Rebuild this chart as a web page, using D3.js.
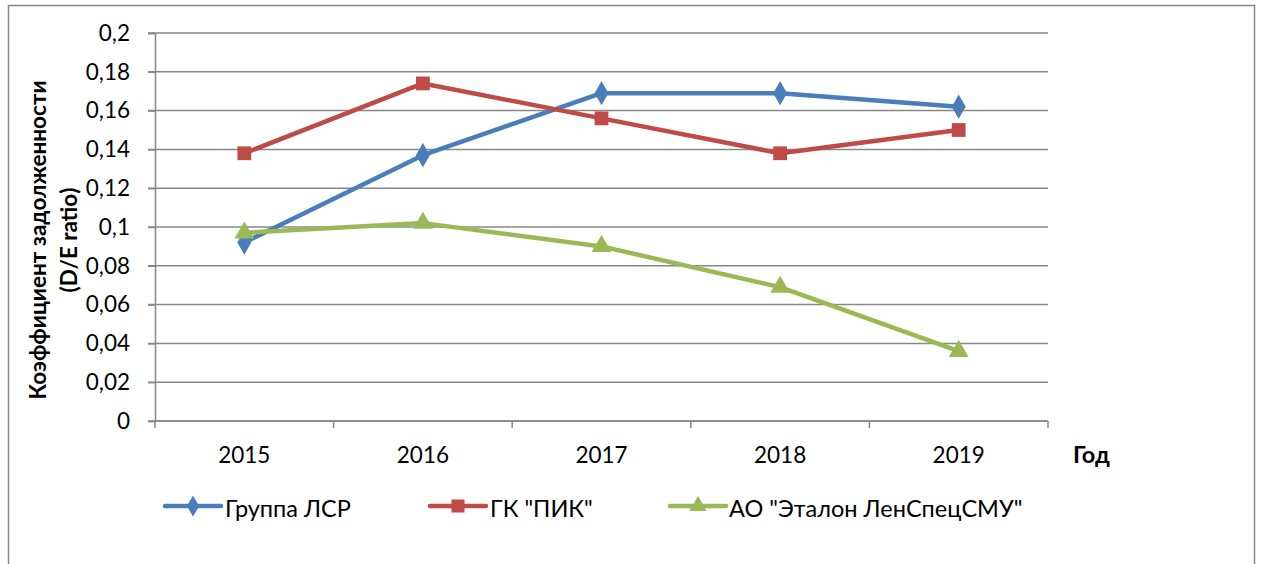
<!DOCTYPE html>
<html><head><meta charset="utf-8">
<script src="https://cdn.jsdelivr.net/npm/d3@7"></script>
<style>body{margin:0;background:#fff;} text{font-family:Lato,"Open Sans",sans-serif;}</style>
</head><body>
<svg id="c" width="1261" height="564"></svg>
<script>
const years = ["2015","2016","2017","2018","2019"];
const seriesNames = ["Группа ЛСР","ГК \"ПИК\"","АО \"Эталон ЛенСпецСМУ\""];
const lsr = [0.092,0.137,0.169,0.169,0.162];
const pik = [0.138,0.174,0.156,0.138,0.150];
const etalon = [0.097,0.102,0.090,0.069,0.036];
const yTicks = [0,0.02,0.04,0.06,0.08,0.1,0.12,0.14,0.16,0.18,0.2];
const colors = ["#4a7ebb","#be4b48","#98b954"];
const symbols = [d3.symbolDiamond, d3.symbolSquare, d3.symbolTriangle];
const data = [lsr,pik,etalon];

const svg = d3.select("#c");
svg.append("rect").attr("x",8.5).attr("y",5.5).attr("width",1246).attr("height",600)
  .attr("fill","#fff").attr("stroke","#888").attr("stroke-width",1.5);

const L=155,R=1048,T=33,B=421;
const FS=22.5;
const x = d3.scaleBand().domain(years).range([L,R]);
const y = d3.scaleLinear().domain([0,0.2]).range([B,T]);
const fmt = d => String(+d.toFixed(2)).replace(".",",");

// gridlines
svg.append("g").selectAll("line").data(yTicks).join("line")
  .attr("x1",L-7).attr("x2",R).attr("y1",d=>y(d)).attr("y2",d=>y(d))
  .attr("stroke","#888").attr("stroke-width",1.5);

// y axis
const ya = svg.append("g").attr("transform",`translate(${L},0)`)
  .call(d3.axisLeft(y).tickValues(yTicks).tickFormat(fmt).tickSize(7).tickPadding(18));
ya.select(".domain").attr("stroke","#888").attr("stroke-width",1.5);
ya.selectAll(".tick line").attr("stroke","#888").attr("stroke-width",1.5);
ya.selectAll("text").attr("font-size",FS).attr("fill","#000").attr("font-family","Lato");

// x axis
const xa = svg.append("g").attr("transform",`translate(0,${B})`)
  .call(d3.axisBottom(x).tickSize(0).tickPadding(26));
xa.select(".domain").remove();
xa.selectAll("text").attr("font-size",FS).attr("fill","#000").attr("font-family","Lato");
const bounds = years.map(d=>x(d)).concat([R]);
svg.append("g").selectAll("line").data(bounds).join("line")
  .attr("x1",d=>d).attr("x2",d=>d).attr("y1",B).attr("y2",B+7)
  .attr("stroke","#888").attr("stroke-width",1.5);
svg.append("line").attr("x1",L).attr("x2",R).attr("y1",B).attr("y2",B).attr("stroke","#888").attr("stroke-width",1.5);

// axis titles
const yt = svg.append("text").attr("transform",`translate(46,240) rotate(-90)`)
  .attr("text-anchor","middle").attr("font-size",FS).attr("font-weight","bold");
yt.append("tspan").attr("x",0).attr("dy",0).text("Коэффициент задолженности");
yt.append("tspan").attr("x",0).attr("dy",31).text("(D/E ratio)");
svg.append("text").attr("x",1073).attr("y",463).attr("font-size",23.5).attr("font-weight","bold").text("Год");

// lines
const line = d3.line().x((d,i)=>x(years[i])+x.bandwidth()/2).y(d=>y(d));
data.forEach((s,k)=>{
  svg.append("path").datum(s).attr("d",line).attr("fill","none")
    .attr("stroke",colors[k]).attr("stroke-width",4.5).attr("stroke-linejoin","round");
  svg.append("g").selectAll("path").data(s).join("path")
    .attr("transform",(d,i)=>`translate(${x(years[i])+x.bandwidth()/2},${y(d)})`)
    .attr("d",d3.symbol().type(symbols[k]).size(k===1?190:170))
    .attr("fill",colors[k]);
});

// legend
const legX = [165,430,670];
const legT = [225,490,729];
seriesNames.forEach((n,k)=>{
  const g = svg.append("g").attr("transform",`translate(${legX[k]},506)`);
  g.append("line").attr("x1",0).attr("x2",56).attr("stroke",colors[k]).attr("stroke-width",4.5).attr("stroke-linecap","round");
  g.append("path").attr("transform","translate(28,0)").attr("d",d3.symbol().type(symbols[k]).size(k===1?170:130)).attr("fill",colors[k]);
  svg.append("text").attr("x",legT[k]).attr("y",517).attr("font-size",23.5).text(n);
});
</script>
</body></html>
